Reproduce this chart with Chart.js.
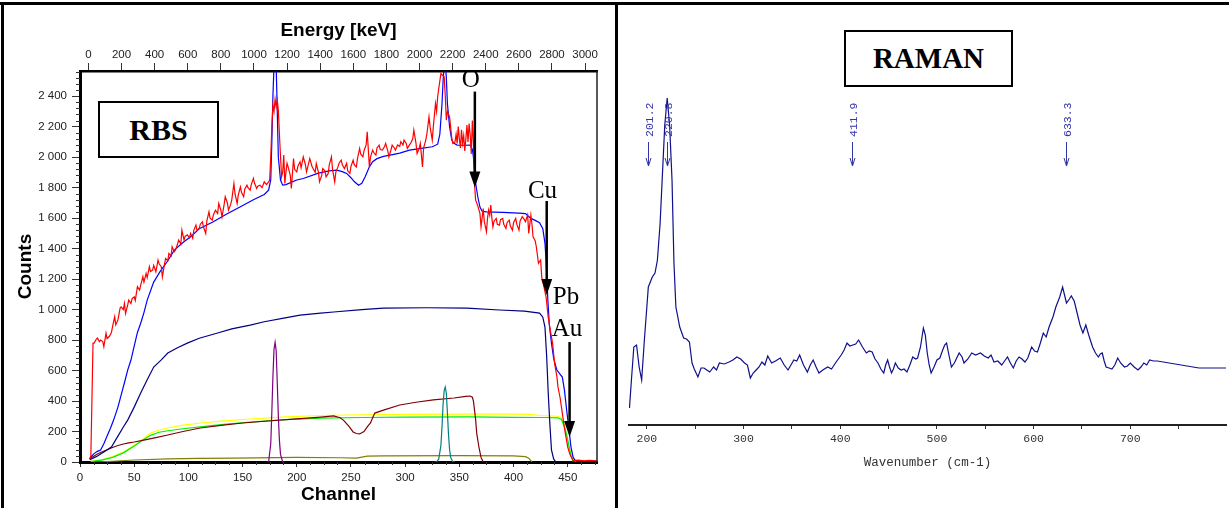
<!DOCTYPE html>
<html lang="en">
<head>
<meta charset="UTF-8">
<title>RBS and RAMAN spectra</title>
<script src="https://cdn.jsdelivr.net/npm/chart.js"></script>
<style>
  body { margin: 0; background: #fff; }
  #wrap { position: relative; width: 1229px; height: 508px; overflow: hidden; }
  canvas { position: absolute; top: 0; }
  #rbs { left: 0; width: 616px; height: 508px; }
  #raman { left: 618px; width: 611px; height: 508px; }
  .rule { position: absolute; background: #000; }
  .box {
    position: absolute; border: 2px solid #000; box-sizing: border-box;
    font-family: "Liberation Serif", "Times New Roman", serif; font-weight: bold;
    display: flex; align-items: center; justify-content: center; background: #fff;
  }
</style>
</head>
<body>
<div id="wrap">
  <canvas id="rbs" width="616" height="508"></canvas>
  <canvas id="raman" width="611" height="508"></canvas>
  <div class="rule" style="left:0;top:2px;width:1229px;height:3px"></div>
  <div class="rule" style="left:1px;top:2px;width:3px;height:506px"></div>
  <div class="rule" style="left:615px;top:2px;width:3px;height:506px"></div>
  <div class="box" style="left:98px;top:101px;width:121px;height:57px;font-size:30px">RBS</div>
  <div class="box" style="left:844px;top:30px;width:169px;height:57px;font-size:29px">RAMAN</div>
</div>
<script>
// ---------- tick labels ----------
const channelTicks = [0, 50, 100, 150, 200, 250, 300, 350, 400, 450];
const energyTicks = [0, 200, 400, 600, 800, 1000, 1200, 1400, 1600, 1800, 2000, 2200, 2400, 2600, 2800, 3000];
const countTicks = [0, 200, 400, 600, 800, 1000, 1200, 1400, 1600, 1800, 2000, 2200, 2400];
const wnTicks = [200, 250, 300, 350, 400, 450, 500, 550, 600, 650, 700, 750];

// ---------- RBS data (channel / counts) ----------
const redCh = [9,10,11,12,13,15,16,18,19,21,22,24,25,27,29,30,32,33,35,37,38,40,41,42,44,45,47,48,50,51,53,55,56,58,59,61,62,64,65,67,68,70,72,73,75,76,78,79,81,82,84,85,87,88,90,91,93,94,96,97,99,101,102,104,105,107,108,110,111,113,114,116,117,119,120,122,123,125,127,128,130,131,133,134,136,137,139,140,142,143,145,146,148,149,151,152,154,155,157,158,160,161,163,164,166,168,170,172,174,175,176,177,178,179,180,181,182,183,184,185,186,187,188,189,190,191,192,194,195,197,198,200,201,203,204,206,208,209,211,212,214,215,217,218,220,221,223,224,226,227,229,230,232,233,235,236,238,239,241,242,244,246,247,249,250,252,253,255,256,258,259,261,262,264,265,267,268,270,271,273,274,276,277,279,281,282,284,285,287,288,290,291,293,295,296,298,299,301,302,304,305,307,308,310,311,313,314,316,317,319,320,322,323,325,326,328,329,330,331,333,334,336,337,338,339,341,343,344,346,347,348,349,350,351,352,353,354,355,356,357,358,359,360,361,362,363,364,365,366,367,369,370,371,372,373,375,376,377,378,379,380,381,382,384,385,387,388,390,391,393,394,396,397,399,400,402,403,405,406,408,410,411,413,414,416,417,418,420,421,423,425,426,428,430,432,434,436,438,440,441,443,445,447,450,452,455,460,465,470,477];
const redCounts = [20,40,400,780,780,805,813,790,800,790,756,845,810,823,850,887,953,900,932,1010,1018,1000,1040,975,1030,1062,1040,1070,1084,1060,1150,1128,1160,1215,1180,1237,1210,1281,1250,1259,1290,1248,1325,1300,1281,1215,1300,1335,1320,1368,1350,1412,1380,1390,1430,1456,1430,1521,1456,1480,1490,1470,1500,1467,1520,1554,1520,1532,1560,1576,1540,1500,1580,1641,1600,1587,1620,1652,1630,1696,1650,1608,1690,1740,1700,1652,1690,1718,1827,1760,1696,1750,1805,1770,1740,1790,1816,1800,1783,1820,1860,1830,1794,1810,1816,1800,1838,1820,1838,1850,2000,2200,2340,2300,2380,2330,2374,2308,2150,2002,1871,1900,2013,1827,1900,1960,1936,1880,1794,1990,1920,1903,1940,1969,1930,2002,1950,1903,1960,1990,1940,1925,1900,1958,1900,1838,1880,1925,1910,1870,1893,1950,2002,1920,1838,1900,1936,1960,1980,1950,1925,1960,1910,1893,1940,1980,1950,1936,1990,2057,2020,2002,2040,2080,2166,1936,2000,2046,2030,2013,2060,2079,2050,2046,2070,2090,2040,2002,2050,2079,2060,2046,2080,2070,2101,2080,2112,2090,2057,2080,2090,2120,2177,2090,2024,2060,2090,1936,2060,2112,2150,2264,2200,2112,2200,2352,2300,2396,2450,2549,2540,2527,2400,2243,2300,2262,2125,2090,2100,2150,2090,2200,2120,2060,2180,2090,2140,2040,2120,2210,2100,2220,2150,2020,2240,2100,1827,1718,1700,1680,1631,1543,1600,1663,1580,1510,1600,1652,1620,1685,1600,1543,1580,1598,1560,1554,1590,1598,1560,1532,1570,1587,1550,1521,1570,1598,1560,1521,1580,1609,1590,1576,1620,1500,1620,1560,1477,1450,1412,1303,1325,1215,1150,1084,950,860,780,640,560,492,420,321,220,98,50,10,12,8,10,8];

const simCh = [9,10,13,16,19,22,25,28,31,35,38,41,44,47,50,53,56,59,62,68,74,81,87,95,102,110,123,135,148,160,170,174,176,177,178,179,180,181,182,183,185,187,190,200,206,220,230,237,242,246,250,253,257,260,263,267,270,274,280,286,295,304,315,325,330,332,334,335,336,337,338,339,341,343,345,348,355,360,362,363,365,367,369,371,375,390,405,411,416,420,424,427,429,430,431.5,433,435,437,440,443,445,447,449,451,453,455,457,460,477];
const simCounts = [20,33,55,70,79,120,170,220,275,360,440,520,603,669,760,850,910,980,1062,1180,1250,1320,1390,1440,1477,1530,1576,1625,1674,1720,1755,1783,1850,2100,2400,2600,2700,2600,2300,2000,1850,1816,1820,1850,1860,1895,1910,1915,1905,1893,1865,1840,1816,1828,1870,1936,1970,1990,2005,2013,2026,2046,2058,2068,2085,2150,2350,2500,2600,2620,2520,2350,2200,2112,2090,2079,2078,2079,2050,2000,1830,1740,1672,1645,1641,1638,1633,1630,1598,1585,1570,1530,1434,1324,1084,900,780,680,603,575,557,470,341,220,98,30,10,5,5];

const layerCh = [9,15,22,29,35,40,44,50,56,62,68,75,81,90,99,110,127,140,157,170,188,203,222,234,260,280,320,357,387,410,424,427,429,430.5,432,433.5,435,437,439,477];
const layerCounts = [15,35,65,98,170,230,275,360,452,540,623,670,715,750,780,812,846,873,898,920,944,964,977,984,1000,1010,1012,1010,997,990,977,950,885,700,452,250,79,20,0,0];

const purpleCh = [172,174,176,177,178,179,180,181,182,183,184,185,187,189];
const purpleCounts = [0,0,120,330,560,740,785,730,520,300,140,50,0,0];

const tealCh = [327,329,331,333,334,335,336,337,338,339,340,341,342,344,346];
const tealCounts = [0,0,20,110,230,380,470,492,450,320,180,80,30,0,0];

const brownCh = [9,12,16,20,25,30,35,40,45,50,60,70,81,95,111,130,150,173,200,222,234,240,243,248,252,255,258,262,265,268,270,272,280,295,310,326,345,356,360,362,363,365,366,368,370,372];
const brownCounts = [20,35,52,66,80,95,108,118,125,131,145,160,177,200,223,240,256,269,283,295,302,290,275,235,197,187,184,200,230,256,290,321,340,374,392,407,420,430,433,425,400,280,190,100,30,0];

const yellowCh = [10,20,30,40,50,56,65,73,81,95,111,130,157,190,222,260,300,360,400,415,425,440,444,447,449,451,453,455,458];
const yellowCounts = [5,15,35,65,110,140,190,210,223,242,256,268,282,296,305,310,312,314,314,313,305,300,292,240,164,100,50,13,0];

const greenCh = [10,20,30,40,50,56,65,73,81,95,111,130,157,190,222,260,300,360,400,430,441,444,447,449,451,453,455];
const greenCounts = [3,12,30,60,105,135,175,195,205,218,230,245,262,278,288,292,295,296,293,292,290,280,230,180,110,40,0];

const oliveCh = [15,30,50,81,110,142,200,240,255,265,280,350,400,411,414,417];
const oliveCounts = [0,5,13,20,24,26,30,28,26,39,40,42,40,35,25,0];

// ---------- RAMAN data ----------
const ramanWn = [182,184,186.5,189.3,192,194.6,197.4,201.5,205.6,208.4,210.9,213.7,215.8,218.5,221,223.5,226,228,230,234,238,241,244,246.7,249,252.8,256,259,262,265,269,272,275,280,285,289,293,297,301,304,307,310,313,316,319,322,325,329,333,338,342,346,349,352,355,358,362,366,369,372,375,378,382,387,391,395,398,401,404,407,410,413,416,419,423,427,430,433,436,439,442,445,447,449,451,453,455,457,460,463,466,469,472,475,478,480,483,486,488,490,492,494,497,500,503,506,508,510,512,515,518,520,523,526,528,532,536,540,545,549,553,556,559,563,567,570,573,576,579,582,585,588,591,594,598,601,604,607,610,613,616,620,623,627,630,632,634,637,639,642,645,648,651,654,657,661,664,667,669,671,673,675,678,681,684,687,690,694,697,700,704,708,711,714,717,720,724,728,771,799];
const ramanInt = [17,45,78,80,58,45,85,138,148,152,165,202,245,300,327,300,245,162,118,98,87,86,83,62,56,48,57,57,55,53,58,55,62,61,63,65,68,66,62,60,47,52,55,58,63,60,69,62,64,67,60,55,60,65,64,70,60,53,60,65,58,52,55,58,56,62,66,70,75,82,79,80,81,85,78,72,74,73,66,62,56,52,60,65,58,52,56,62,57,55,56,53,60,68,66,67,78,97,90,72,60,52,58,65,67,75,80,82,72,58,62,66,72,68,62,66,72,70,72,69,67,70,63,64,60,64,68,62,57,64,68,66,63,67,78,74,73,82,92,88,98,108,118,128,138,130,122,126,129,124,112,100,92,100,90,78,72,68,71,72,64,58,57,56,60,67,62,58,59,62,58,55,58,62,60,65,64,64,57,57];
const ramanPeaks = ['201.2', '220.8', '411.9', '633.3'];

function pts(xs, ys) {
  return xs.map((x, i) => ({ x: x, y: ys[i] }));
}

function fixedTicks(list) {
  return function (scale) {
    scale.ticks = list.map(v => ({ value: v }));
  };
}

// minor tick marks, drawn outside the plot box
const minorTicks = {
  id: 'minorTicks',
  afterDraw(chart, args, opts) {
    const ctx = chart.ctx;
    const area = chart.chartArea;
    ctx.save();
    ctx.strokeStyle = '#333';
    ctx.lineWidth = 1;
    (opts.list || []).forEach(m => {
      const s = chart.scales[m.id];
      for (let v = m.from; v <= m.to; v += m.step) {
        if (v % m.skip === 0) continue;
        const p = Math.round(s.getPixelForValue(v)) + 0.5;
        ctx.beginPath();
        if (m.id === 'y') { ctx.moveTo(area.left - m.len, p); ctx.lineTo(area.left, p); }
        else { ctx.moveTo(p, area.bottom); ctx.lineTo(p, area.bottom + m.len); }
        ctx.stroke();
      }
    });
    ctx.restore();
  }
};

function downArrow(ctx, x, y1, y2) {
  ctx.beginPath();
  ctx.moveTo(x, y1);
  ctx.lineTo(x, y2 - 14);
  ctx.stroke();
  ctx.beginPath();
  ctx.moveTo(x - 5.5, y2 - 16);
  ctx.lineTo(x + 5.5, y2 - 16);
  ctx.lineTo(x, y2);
  ctx.closePath();
  ctx.fill();
}

// element edges in RBS: [label, text channel, text counts, align, arrow channel, arrow from, arrow to]
const rbsEdges = [
  ['O', 360.6, 2462, 'center', 364.3, 2430, 1800],
  ['Cu', 426.7, 1731, 'center', 430.6, 1712, 1095],
  ['Pb', 436.2, 1036, 'left', null, 0, 0],
  ['Au', 435.3, 826, 'left', 451.7, 787, 164]
];

const rbsNotes = {
  id: 'rbsNotes',
  afterDraw(chart) {
    const ctx = chart.ctx, x = chart.scales.x, y = chart.scales.y, a = chart.chartArea;
    ctx.save();
    // right edge of the plot box
    ctx.strokeStyle = '#222';
    ctx.lineWidth = 1.5;
    ctx.beginPath();
    ctx.moveTo(a.right, a.top);
    ctx.lineTo(a.right, a.bottom);
    ctx.stroke();
    ctx.fillStyle = '#000';
    ctx.strokeStyle = '#000';
    ctx.lineWidth = 2.5;
    ctx.font = '25px "Liberation Serif", "Times New Roman", serif';
    rbsEdges.forEach(e => {
      ctx.textAlign = e[3];
      ctx.fillText(e[0], x.getPixelForValue(e[1]), y.getPixelForValue(e[2]));
      if (e[4] !== null) {
        downArrow(ctx, x.getPixelForValue(e[4]), y.getPixelForValue(e[5]), y.getPixelForValue(e[6]));
      }
    });
    ctx.restore();
  }
};

const tickFont = { family: '"Liberation Sans", Arial, sans-serif', size: 11.5 };
const titleFont = { family: '"Liberation Sans", Arial, sans-serif', size: 19, weight: 'bold' };

function spaced(v) {
  if (v < 1000) return String(v);
  return Math.floor(v / 1000) + ' ' + String(v % 1000).padStart(3, '0');
}

new Chart(document.getElementById('rbs'), {
  type: 'line',
  data: {
    datasets: [
      { data: pts(redCh, redCounts), borderColor: '#ff0000' },
      { data: pts(simCh, simCounts), borderColor: '#0000ff' },
      { data: pts(purpleCh, purpleCounts), borderColor: '#800080' },
      { data: pts(tealCh, tealCounts), borderColor: '#008080' },
      { data: pts(layerCh, layerCounts), borderColor: '#000080' },
      { data: pts(brownCh, brownCounts), borderColor: '#800000' },
      { data: pts(greenCh, greenCounts), borderColor: '#00ee00' },
      { data: pts(yellowCh, yellowCounts), borderColor: '#ffff00' },
      { data: pts(oliveCh, oliveCounts), borderColor: '#808000' }
    ]
  },
  options: {
    responsive: false,
    animation: false,
    devicePixelRatio: 1,
    layout: { padding: { left: 0, right: 19, top: 0, bottom: 0 } },
    elements: { point: { radius: 0 }, line: { borderWidth: 1.2, tension: 0 } },
    plugins: {
      legend: { display: false },
      tooltip: { enabled: false },
      minorTicks: {
        list: [
          { id: 'y', from: 0, to: 2560, step: 40, skip: 200, len: 4 },
          { id: 'x', from: 0, to: 475, step: 12.5, skip: 50, len: 3 }
        ]
      }
    },
    scales: {
      x: {
        type: 'linear', position: 'bottom', min: 0, max: 477,
        afterBuildTicks: fixedTicks(channelTicks),
        afterFit(s) { s.height = 46; },
        grid: { drawOnChartArea: false, tickLength: 5, tickColor: '#333' },
        border: { color: '#000', width: 3 },
        ticks: { autoSkip: false, maxRotation: 0, padding: 4, color: '#222', font: tickFont, callback: v => String(v) },
        title: { display: true, text: 'Channel', color: '#000', font: titleFont, padding: { top: 0, bottom: 1.6 } }
      },
      x2: {
        type: 'linear', position: 'top', min: -51, max: 3072,
        afterBuildTicks: fixedTicks(energyTicks),
        afterFit(s) { s.height = 71; },
        grid: { drawOnChartArea: false, tickLength: 8, tickColor: '#333' },
        border: { color: '#000', width: 2.5 },
        ticks: { autoSkip: false, maxRotation: 0, padding: 1, color: '#222', font: tickFont, callback: v => String(v) },
        title: { display: true, text: 'Energy [keV]', color: '#000', font: titleFont, padding: { top: 19.6, bottom: 0 } }
      },
      y: {
        min: 0, max: 2565,
        afterBuildTicks: fixedTicks(countTicks),
        afterFit(s) { s.width = 80; },
        grid: { drawOnChartArea: false, tickLength: 8, tickColor: '#333' },
        border: { color: '#000', width: 3 },
        ticks: { autoSkip: false, padding: 5, color: '#222', font: tickFont, callback: v => spaced(v) },
        title: { display: true, text: 'Counts', color: '#000', font: titleFont, padding: { top: 14.6, bottom: 0 } }
      }
    }
  },
  plugins: [minorTicks, rbsNotes]
});

// peak markers above the RAMAN spectrum
const ramanMarks = {
  id: 'ramanMarks',
  afterDraw(chart) {
    const ctx = chart.ctx, x = chart.scales.x;
    ctx.save();
    ctx.fillStyle = '#3434a6';
    ctx.strokeStyle = '#3434a6';
    ctx.lineWidth = 1;
    ctx.font = '11.5px "Liberation Mono", "Courier New", monospace';
    ramanPeaks.forEach(p => {
      const px = Math.round(x.getPixelForValue(parseFloat(p))) + 0.5;
      ctx.save();
      ctx.translate(px + 4, 137);
      ctx.rotate(-Math.PI / 2);
      ctx.textAlign = 'left';
      ctx.textBaseline = 'alphabetic';
      ctx.fillText(p, 0, 0);
      ctx.restore();
      ctx.beginPath();
      ctx.moveTo(px, 142);
      ctx.lineTo(px, 166);
      ctx.moveTo(px - 2.5, 158);
      ctx.lineTo(px, 166);
      ctx.lineTo(px + 2.5, 158);
      ctx.stroke();
    });
    ctx.restore();
  }
};

const monoFont = { family: '"Liberation Mono", "Courier New", monospace', size: 11.5 };

new Chart(document.getElementById('raman'), {
  type: 'line',
  data: {
    datasets: [
      { data: pts(ramanWn, ramanInt), borderColor: '#10108a', borderWidth: 1.2 }
    ]
  },
  options: {
    responsive: false,
    animation: false,
    devicePixelRatio: 1,
    layout: { padding: { left: 11, right: 3, top: 90, bottom: 0 } },
    elements: { point: { radius: 0 }, line: { tension: 0 } },
    plugins: { legend: { display: false }, tooltip: { enabled: false } },
    scales: {
      x: {
        type: 'linear', min: 181.5, max: 799,
        afterBuildTicks: fixedTicks(wnTicks),
        afterFit(s) { s.height = 83; },
        grid: { drawOnChartArea: false, tickLength: 4, tickColor: '#333' },
        border: { color: '#222', width: 2 },
        ticks: { autoSkip: false, maxRotation: 0, padding: 3, color: '#333', font: monoFont,
                 callback: v => (v % 100 === 0 ? String(v) : '') },
        title: { display: true, text: 'Wavenumber (cm-1)', color: '#333',
                 font: { family: '"Liberation Mono", "Courier New", monospace', size: 12.5 }, padding: { top: 0, bottom: 37.5 } }
      },
      y: { display: false, min: 0, max: 335 }
    }
  },
  plugins: [ramanMarks]
});
</script>
</body>
</html>
